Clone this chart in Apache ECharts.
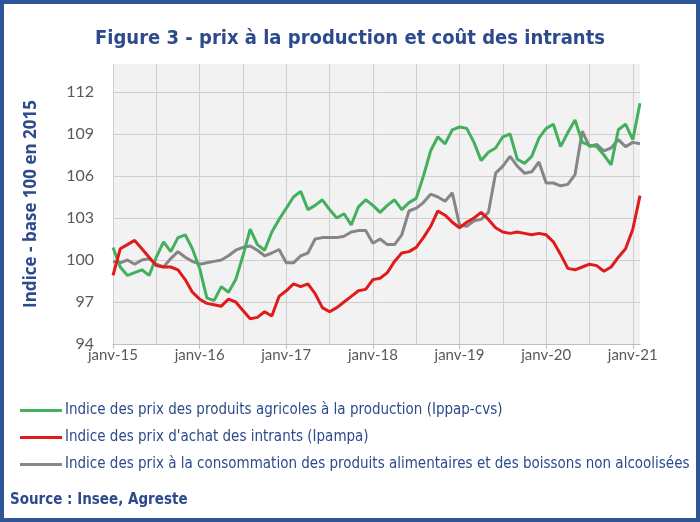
<!DOCTYPE html>
<html><head><meta charset="utf-8">
<script src="https://cdn.jsdelivr.net/npm/echarts@6/dist/echarts.min.js"></script>
<style>html,body{margin:0;padding:0;background:#fff}#c{width:700px;height:522px}</style>
</head><body><div id="c"></div>
<script>
const monthNames = ['janv','févr','mars','avr','mai','juin','juil','août','sept','oct','nov','déc'];
const startYear = 15, nMonths = 74;
const categories = [];
for (let i = 0; i < nMonths; i++) categories.push(monthNames[i % 12] + '-' + (startYear + Math.floor(i / 12)));

const ippap = [100.9,99.5,98.9,99.1,99.3,98.9,100.2,101.3,100.6,101.6,101.8,100.8,99.4,97.3,97.1,98.1,97.7,98.6,100.3,102.2,101.1,100.7,102.0,102.9,103.7,104.5,104.9,103.6,103.9,104.3,103.6,103.0,103.3,102.5,103.8,104.3,103.9,103.4,103.9,104.3,103.6,104.1,104.4,106.0,107.8,108.8,108.3,109.3,109.5,109.4,108.4,107.1,107.7,108.0,108.8,109.0,107.2,106.9,107.4,108.7,109.4,109.7,108.1,109.1,110.0,108.4,108.2,108.1,107.5,106.8,109.3,109.7,108.6,111.2];
const ipampa = [98.9,100.8,101.1,101.4,100.8,100.2,99.6,99.5,99.5,99.3,98.6,97.7,97.2,96.9,96.8,96.7,97.2,97.0,96.4,95.8,95.9,96.3,96.0,97.4,97.8,98.3,98.1,98.3,97.6,96.6,96.3,96.6,97.0,97.4,97.8,97.9,98.6,98.7,99.1,99.9,100.5,100.6,100.9,101.6,102.4,103.5,103.2,102.7,102.3,102.7,103.0,103.4,102.9,102.3,102.0,101.9,102.0,101.9,101.8,101.9,101.8,101.3,100.4,99.4,99.3,99.5,99.7,99.6,99.2,99.5,100.2,100.8,102.2,104.6];
const ipcAlim = [99.9,99.8,100.0,99.7,100.0,100.1,99.7,99.5,100.1,100.6,100.2,99.9,99.7,99.8,99.9,100.0,100.3,100.7,100.9,101.0,100.7,100.3,100.5,100.75,99.8,99.8,100.3,100.5,101.5,101.6,101.6,101.6,101.7,102.0,102.1,102.1,101.2,101.5,101.1,101.1,101.8,103.5,103.7,104.1,104.7,104.5,104.2,104.8,102.5,102.4,102.8,102.9,103.4,106.2,106.7,107.4,106.7,106.2,106.3,107.0,105.5,105.5,105.3,105.4,106.1,109.2,108.1,108.25,107.8,108.0,108.6,108.1,108.4,108.3];
const seriesNames = [
  'Indice des prix des produits agricoles à la production (Ippap-cvs)',
  "Indice des prix d'achat des intrants (Ipampa)",
  'Indice des prix à la consommation des produits alimentaires et des boissons non alcoolisées'
];
const yMin = 94, yMax = 114, yStep = 3;

const blue = '#2c4a8c';
const narrow = "'Liberation Sans Narrow','DejaVu Sans Condensed','Roboto Condensed',Roboto,sans-serif";
const chart = echarts.init(document.getElementById('c'), null, {renderer: 'canvas'});
chart.setOption({
  backgroundColor: '#fff',
  animation: false,
  title: {
    text: 'Figure 3 - prix à la production et coût des intrants',
    left: 'center', top: 24,
    textStyle: {color: blue, fontSize: 20, fontWeight: 'bold', fontFamily: narrow}
  },
  graphic: [
    {type: 'rect', silent: true, z: 100,
     shape: {x: 2, y: 2, width: 696, height: 518},
     style: {fill: 'none', stroke: '#2e5597', lineWidth: 4}},
    {type: 'text', left: 10, top: 493,
     style: {text: 'Source : Insee, Agreste', fill: blue, font: "bold 15px " + narrow}}
  ],
  legend: {
    orient: 'vertical', left: 15, top: 398, itemGap: 12,
    itemWidth: 42, itemHeight: 3, icon: 'rect',
    textStyle: {color: blue, fontSize: 15, fontFamily: narrow, padding: [0,0,0,-2]},
    data: seriesNames
  },
  grid: {left: 113, right: 60, top: 64, bottom: 178, show: true, backgroundColor: '#f2f2f2', borderWidth: 0},
  xAxis: {
    type: 'category', boundaryGap: false, data: categories,
    axisLine: {lineStyle: {color: '#bfbfbf', width: 1}},
    axisTick: {show: true, interval: 11, length: 5, lineStyle: {color: '#bfbfbf'}},
    axisLabel: {interval: 11, color: '#595959', fontSize: 15, fontFamily: 'Lato', margin: 4},
    splitLine: {show: true, interval: 5, lineStyle: {color: '#cfcfcf', width: 1}}
  },
  yAxis: {
    type: 'value', min: yMin, max: yMax, interval: yStep,
    name: 'Indice - base 100 en 2015', nameLocation: 'middle', nameGap: 73,
    nameTextStyle: {color: blue, fontSize: 17, fontWeight: 'bold', fontFamily: 'Open Sans'},
    axisLine: {show: false}, axisTick: {show: false},
    axisLabel: {color: '#595959', fontSize: 16, fontFamily: 'Lato', margin: 19,
      formatter: v => (v === yMax ? '' : String(v))},
    splitLine: {lineStyle: {color: ['#cfcfcf','#cfcfcf','#cfcfcf','#cfcfcf','#cfcfcf','#cfcfcf','#cfcfcf','#f2f2f2'], width: 1}}
  },
  series: [
    {name: seriesNames[0], type: 'line', data: ippap, symbol: 'none', color: '#43b05e', lineStyle: {width: 3}},
    {name: seriesNames[1], type: 'line', data: ipampa, symbol: 'none', color: '#e01b1b', lineStyle: {width: 3}},
    {name: seriesNames[2], type: 'line', data: ipcAlim, symbol: 'none', color: '#868686', lineStyle: {width: 3}, z: 1}
  ]
});
</script></body></html>
